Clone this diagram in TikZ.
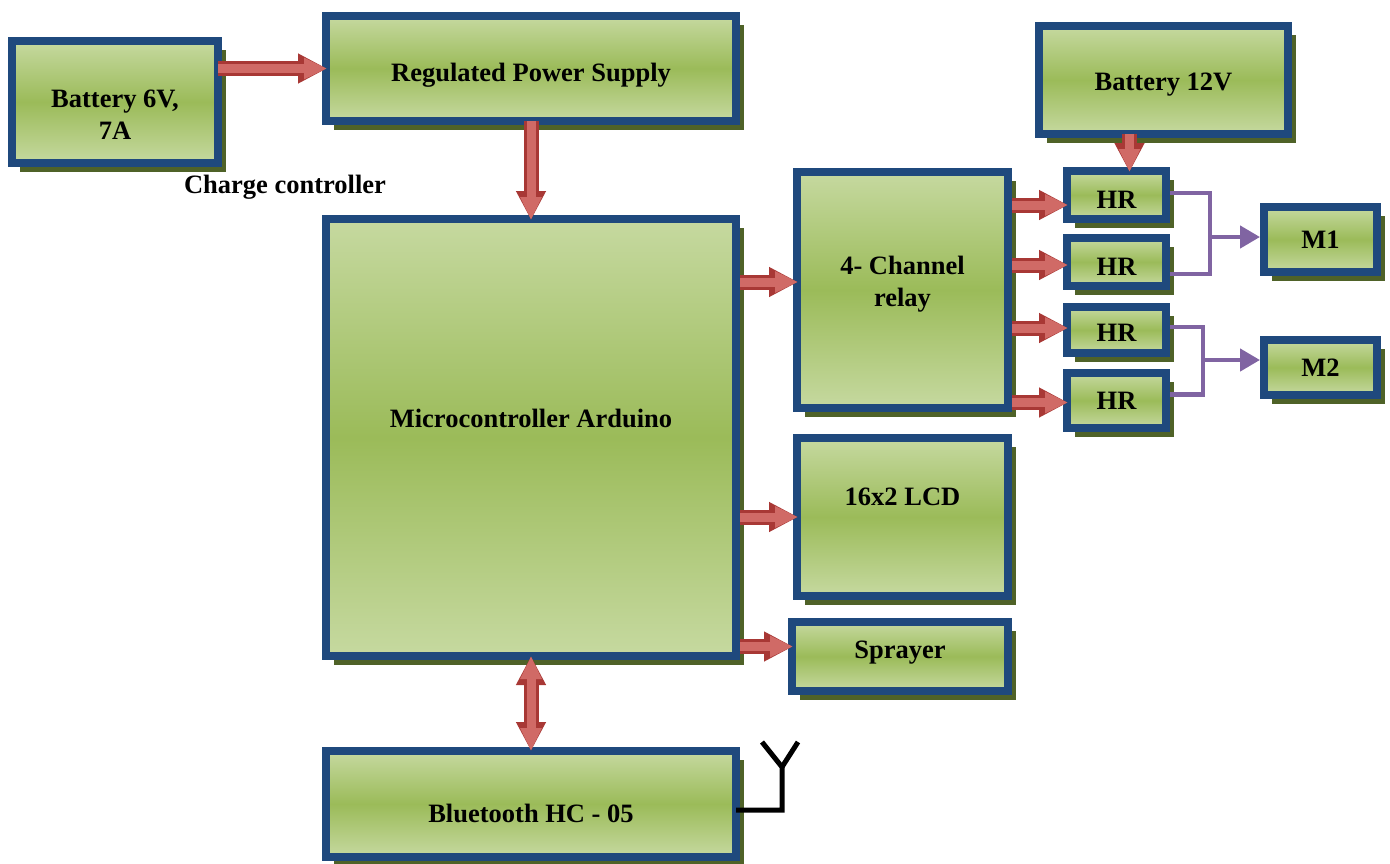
\documentclass[tikz,border=0pt]{standalone}
\usepackage{fontspec}
\setmainfont{Liberation Serif}
\usetikzlibrary{arrows.meta,shadows}
\definecolor{bord}{HTML}{1F497D}
\definecolor{lg}{HTML}{C6D9A0}
\definecolor{mg}{HTML}{9BBB59}
\definecolor{shad}{HTML}{4F6228}
\definecolor{purp}{HTML}{8064A2}
\definecolor{rdark}{HTML}{A83835}
\definecolor{rlight}{HTML}{D06A66}
\pgfdeclareverticalshading{boxshade}{100bp}{color(0bp)=(lg); color(25bp)=(lg); color(50bp)=(mg); color(75bp)=(lg); color(100bp)=(lg)}
\begin{document}
\begin{tikzpicture}[x=1pt,y=-1pt,
  box/.style={draw=bord, line width=8pt, shading=boxshade,
    drop shadow={shadow xshift=8pt, shadow yshift=-9pt, fill=shad, opacity=1},
    font=\fontsize{26.5}{32}\selectfont\bfseries, align=center, inner sep=0pt},
  lbl/.style={font=\fontsize{26.5}{32}\selectfont\bfseries, align=center, inner sep=0pt},
  redA/.style={draw=rlight, line width=9pt, -{Triangle[width=20pt,length=23pt]},
    preaction={draw=rdark, line width=15pt, -{Triangle[width=28pt,length=29pt]}}},
  redB/.style={draw=rlight, line width=9pt, {Triangle[width=20pt,length=23pt]}-{Triangle[width=20pt,length=23pt]},
    preaction={draw=rdark, line width=15pt, {Triangle[width=28pt,length=29pt]}-{Triangle[width=28pt,length=29pt]}}},
  pline/.style={draw=purp, line width=4.5pt},
  parr/.style={draw=purp, line width=4.5pt, -{Triangle[width=22pt,length=20pt]}},
  ant/.style={draw=black, line width=5pt}
]
\useasboundingbox (0,0) rectangle (1390,863);

\node[box, minimum width=206pt, minimum height=122pt, label={[lbl,yshift=-13pt]center:Battery 6V,\\7A}] (bat6) at (115,102) {};
\node[box, minimum width=410pt, minimum height=105pt, label={[lbl,yshift=-6.5pt]center:Regulated Power Supply}] (rps) at (531,68.5) {};
\node[box, minimum width=410pt, minimum height=437pt, label={[lbl,yshift=19.5pt]center:Microcontroller Arduino}] (ard) at (531,437.5) {};
\node[box, minimum width=410pt, minimum height=106pt, label={[lbl,yshift=-9pt]center:Bluetooth HC - 05}] (bt) at (531,804) {};
\node[box, minimum width=211pt, minimum height=236pt, label={[lbl,yshift=6pt]center:4- Channel\\relay}] (relay) at (902.5,290) {};
\node[box, minimum width=211pt, minimum height=158pt, label={[lbl,yshift=20pt]center:16x2 LCD}] (lcd) at (902.5,517) {};
\node[box, minimum width=216pt, minimum height=69pt, label={[lbl,yshift=4pt]center:Sprayer}] (spray) at (900,656.5) {};
\node[box, minimum width=249pt, minimum height=108pt, label={[lbl,yshift=-5pt]center:Battery 12V}] (bat12) at (1163.5,80) {};
\node[box, minimum width=99pt, minimum height=48pt, label={[lbl,yshift=-5pt]center:HR}] (hr1) at (1116.5,195) {};
\node[box, minimum width=99pt, minimum height=48pt, label={[lbl,yshift=-5pt]center:HR}] (hr2) at (1116.5,262) {};
\node[box, minimum width=99pt, minimum height=46pt, label={[lbl,yshift=-3pt]center:HR}] (hr3) at (1116.5,330) {};
\node[box, minimum width=99pt, minimum height=55pt, label={[lbl]center:HR}] (hr4) at (1116.5,400.5) {};
\node[box, minimum width=113pt, minimum height=65pt] (m1) at (1320.5,239.5) {M1};
\node[box, minimum width=113pt, minimum height=55pt] (m2) at (1320.5,367.5) {M2};

\node[lbl] (cc) at (285,187) {Charge controller};

% red arrows
\draw[redA] ([xshift=-4pt]bat6.east |- rps.west) -- ([xshift=5pt]rps.west);
\draw[redA] ([yshift=4pt]rps.south) -- ([yshift=-5pt]ard.north);
\draw[redA] ([yshift=8pt]relay.west -| ard.east) -- ([yshift=8pt,xshift=5pt]relay.west);
\draw[redA] (ard.east |- lcd.west) -- ([xshift=5pt]lcd.west);
\draw[redA] ([yshift=10pt]spray.west -| ard.east) -- ([yshift=10pt,xshift=5pt]spray.west);
\draw[redB] ([yshift=4pt]ard.south) -- ([yshift=-4pt]bt.north);
\draw[redA] ([yshift=-10pt]hr1.west -| relay.east) -- ([yshift=-10pt,xshift=5pt]hr1.west);
\draw[redA] ([yshift=-3pt]hr2.west -| relay.east) -- ([yshift=-3pt,xshift=5pt]hr2.west);
\draw[redA] ([yshift=2pt]hr3.west -| relay.east) -- ([yshift=2pt,xshift=5pt]hr3.west);
\draw[redA] ([yshift=-2pt]hr4.west -| relay.east) -- ([yshift=-2pt,xshift=5pt]hr4.west);
\draw[redA] ([xshift=13pt,yshift=4pt]bat12.south -| hr1.north) -- ([xshift=13pt,yshift=-5pt]hr1.north);

% purple connectors
\coordinate (j1) at (1210,237);
\coordinate (j2) at (1203,360);
\draw[pline] ([yshift=2pt]hr1.east) -| (j1) |- ([yshift=-12pt]hr2.east);
\draw[parr] (j1) -- (m1.west |- j1);
\draw[pline] ([yshift=3pt]hr3.east) -| (j2) |- ([yshift=6pt]hr4.east);
\draw[parr] (j2) -- (m2.west |- j2);

% antenna
\coordinate (a1) at (782,810);
\coordinate (a2) at (782,767);
\coordinate (a3) at (762,742);
\coordinate (a4) at (798,742);
\draw[ant] ([xshift=-4pt]bt.east |- a1) -- (a1) -- (a2) -- (a3);
\draw[ant] (a2) -- (a4);
\end{tikzpicture}
\end{document}
